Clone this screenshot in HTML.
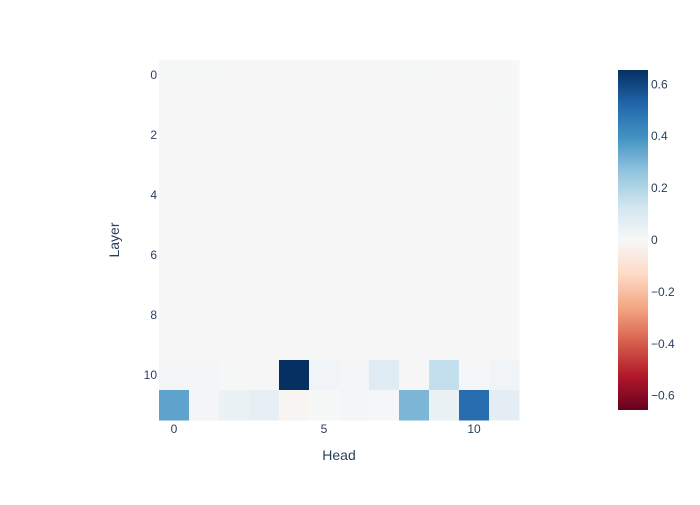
<!DOCTYPE html>
<html><head><meta charset="utf-8">
<style>
body{margin:0;background:#fff;font-family:"Liberation Sans",sans-serif;}
svg text{font-family:"Liberation Sans",sans-serif;fill:#2a3f5f;}
</style></head>
<body>
<svg id="chart" width="700" height="500" xmlns="http://www.w3.org/2000/svg">
<rect width="700" height="500" fill="#fff"/>
<g id="cells"></g>
<g id="axes"></g>
<defs><linearGradient id="cbg" x1="0" y1="1" x2="0" y2="0"></linearGradient></defs>
<rect x="618" y="70" width="30" height="340" fill="url(#cbg)"/>
<g id="cbticks"></g>
<text x="339" y="460" font-size="14" text-anchor="middle">Head</text>
<text x="119" y="240" font-size="14" text-anchor="middle" transform="rotate(-90 119 240)">Layer</text>
</svg>
<script>
const heads=[0,1,2,3,4,5,6,7,8,9,10,11];
const layers=[0,1,2,3,4,5,6,7,8,9,10,11];
const zeroRow=[0,0,0,0,0,0,0,0,0,0,0,0];
const row0=[0.002,0.002,0.001,0.001,0.001,0.001,0.001,0.001,0.002,0.001,0.001,0.001];
const row1=[0.001,0.001,0.001,0.001,0.001,0.001,0.001,0.001,0.001,0.001,0.001,0.003];
const row10=[0.015,0.015,0.003,0.005,0.655,0.025,0.012,0.08,0.005,0.16,0.008,0.02];
const row11=[0.35,0.015,0.04,0.06,-0.015,0.002,0.012,0.008,0.3,0.04,0.5,0.07];
const z=[row0,row1,zeroRow,zeroRow,zeroRow,zeroRow,zeroRow,zeroRow,zeroRow,zeroRow,row10,row11];
const xTicks=[0,5,10];
const yTicks=[0,2,4,6,8,10];
const cbTicks=[0.6,0.4,0.2,0,-0.2,-0.4,-0.6];
const zmax=0.655, zmin=-0.655;
const scale=[[103,0,31],[178,24,43],[214,96,77],[244,165,130],[253,219,199],[247,247,247],[209,229,240],[146,197,222],[67,147,195],[33,102,172],[5,48,97]];
function color(v){let t=(v-zmin)/(zmax-zmin);t=Math.max(0,Math.min(1,t));const p=t*(scale.length-1);const i=Math.min(Math.floor(p),scale.length-2);const f=p-i;const a=scale[i],b=scale[i+1];return `rgb(${a.map((c,k)=>Math.round(c+(b[k]-c)*f)).join(',')})`;}
const x0=159,y0=60,cw=30,ch=30;
const xs=h=>x0+h*cw, ys=l=>y0+l*ch;
const NS="http://www.w3.org/2000/svg";
const cells=document.getElementById('cells');
layers.forEach((l,li)=>heads.forEach((h,hi)=>{
 const r=document.createElementNS(NS,'rect');
 r.setAttribute('x',xs(h));r.setAttribute('y',ys(l));r.setAttribute('width',cw+0.5);r.setAttribute('height',ch+0.5);
 r.setAttribute('fill',color(z[li][hi]));
 
 
 cells.appendChild(r);
}));
const axes=document.getElementById('axes');
xTicks.forEach(t=>{const e=document.createElementNS(NS,'text');e.setAttribute('x',xs(t)+cw/2);e.setAttribute('y',433);e.setAttribute('font-size','12');e.setAttribute('text-anchor','middle');e.textContent=t;


axes.appendChild(e);});
yTicks.forEach(t=>{const e=document.createElementNS(NS,'text');e.setAttribute('x',157);e.setAttribute('y',ys(t)+ch/2+4);e.setAttribute('font-size','12');e.setAttribute('text-anchor','end');e.textContent=t;


axes.appendChild(e);});
const g=document.getElementById('cbg');
scale.forEach((c,i)=>{const s=document.createElementNS(NS,'stop');s.setAttribute('offset',i/(scale.length-1));s.setAttribute('stop-color',`rgb(${c.join(',')})`);g.appendChild(s);});
const cbt=document.getElementById('cbticks');
const cy=v=>410-(v-zmin)/(zmax-zmin)*340;
cbTicks.forEach(t=>{const e=document.createElementNS(NS,'text');e.setAttribute('x',651);e.setAttribute('y',cy(t)+4);e.setAttribute('font-size','12');e.textContent=t<0?'\u2212'+Math.abs(t):String(t);


cbt.appendChild(e);});
</script>
</body></html>
